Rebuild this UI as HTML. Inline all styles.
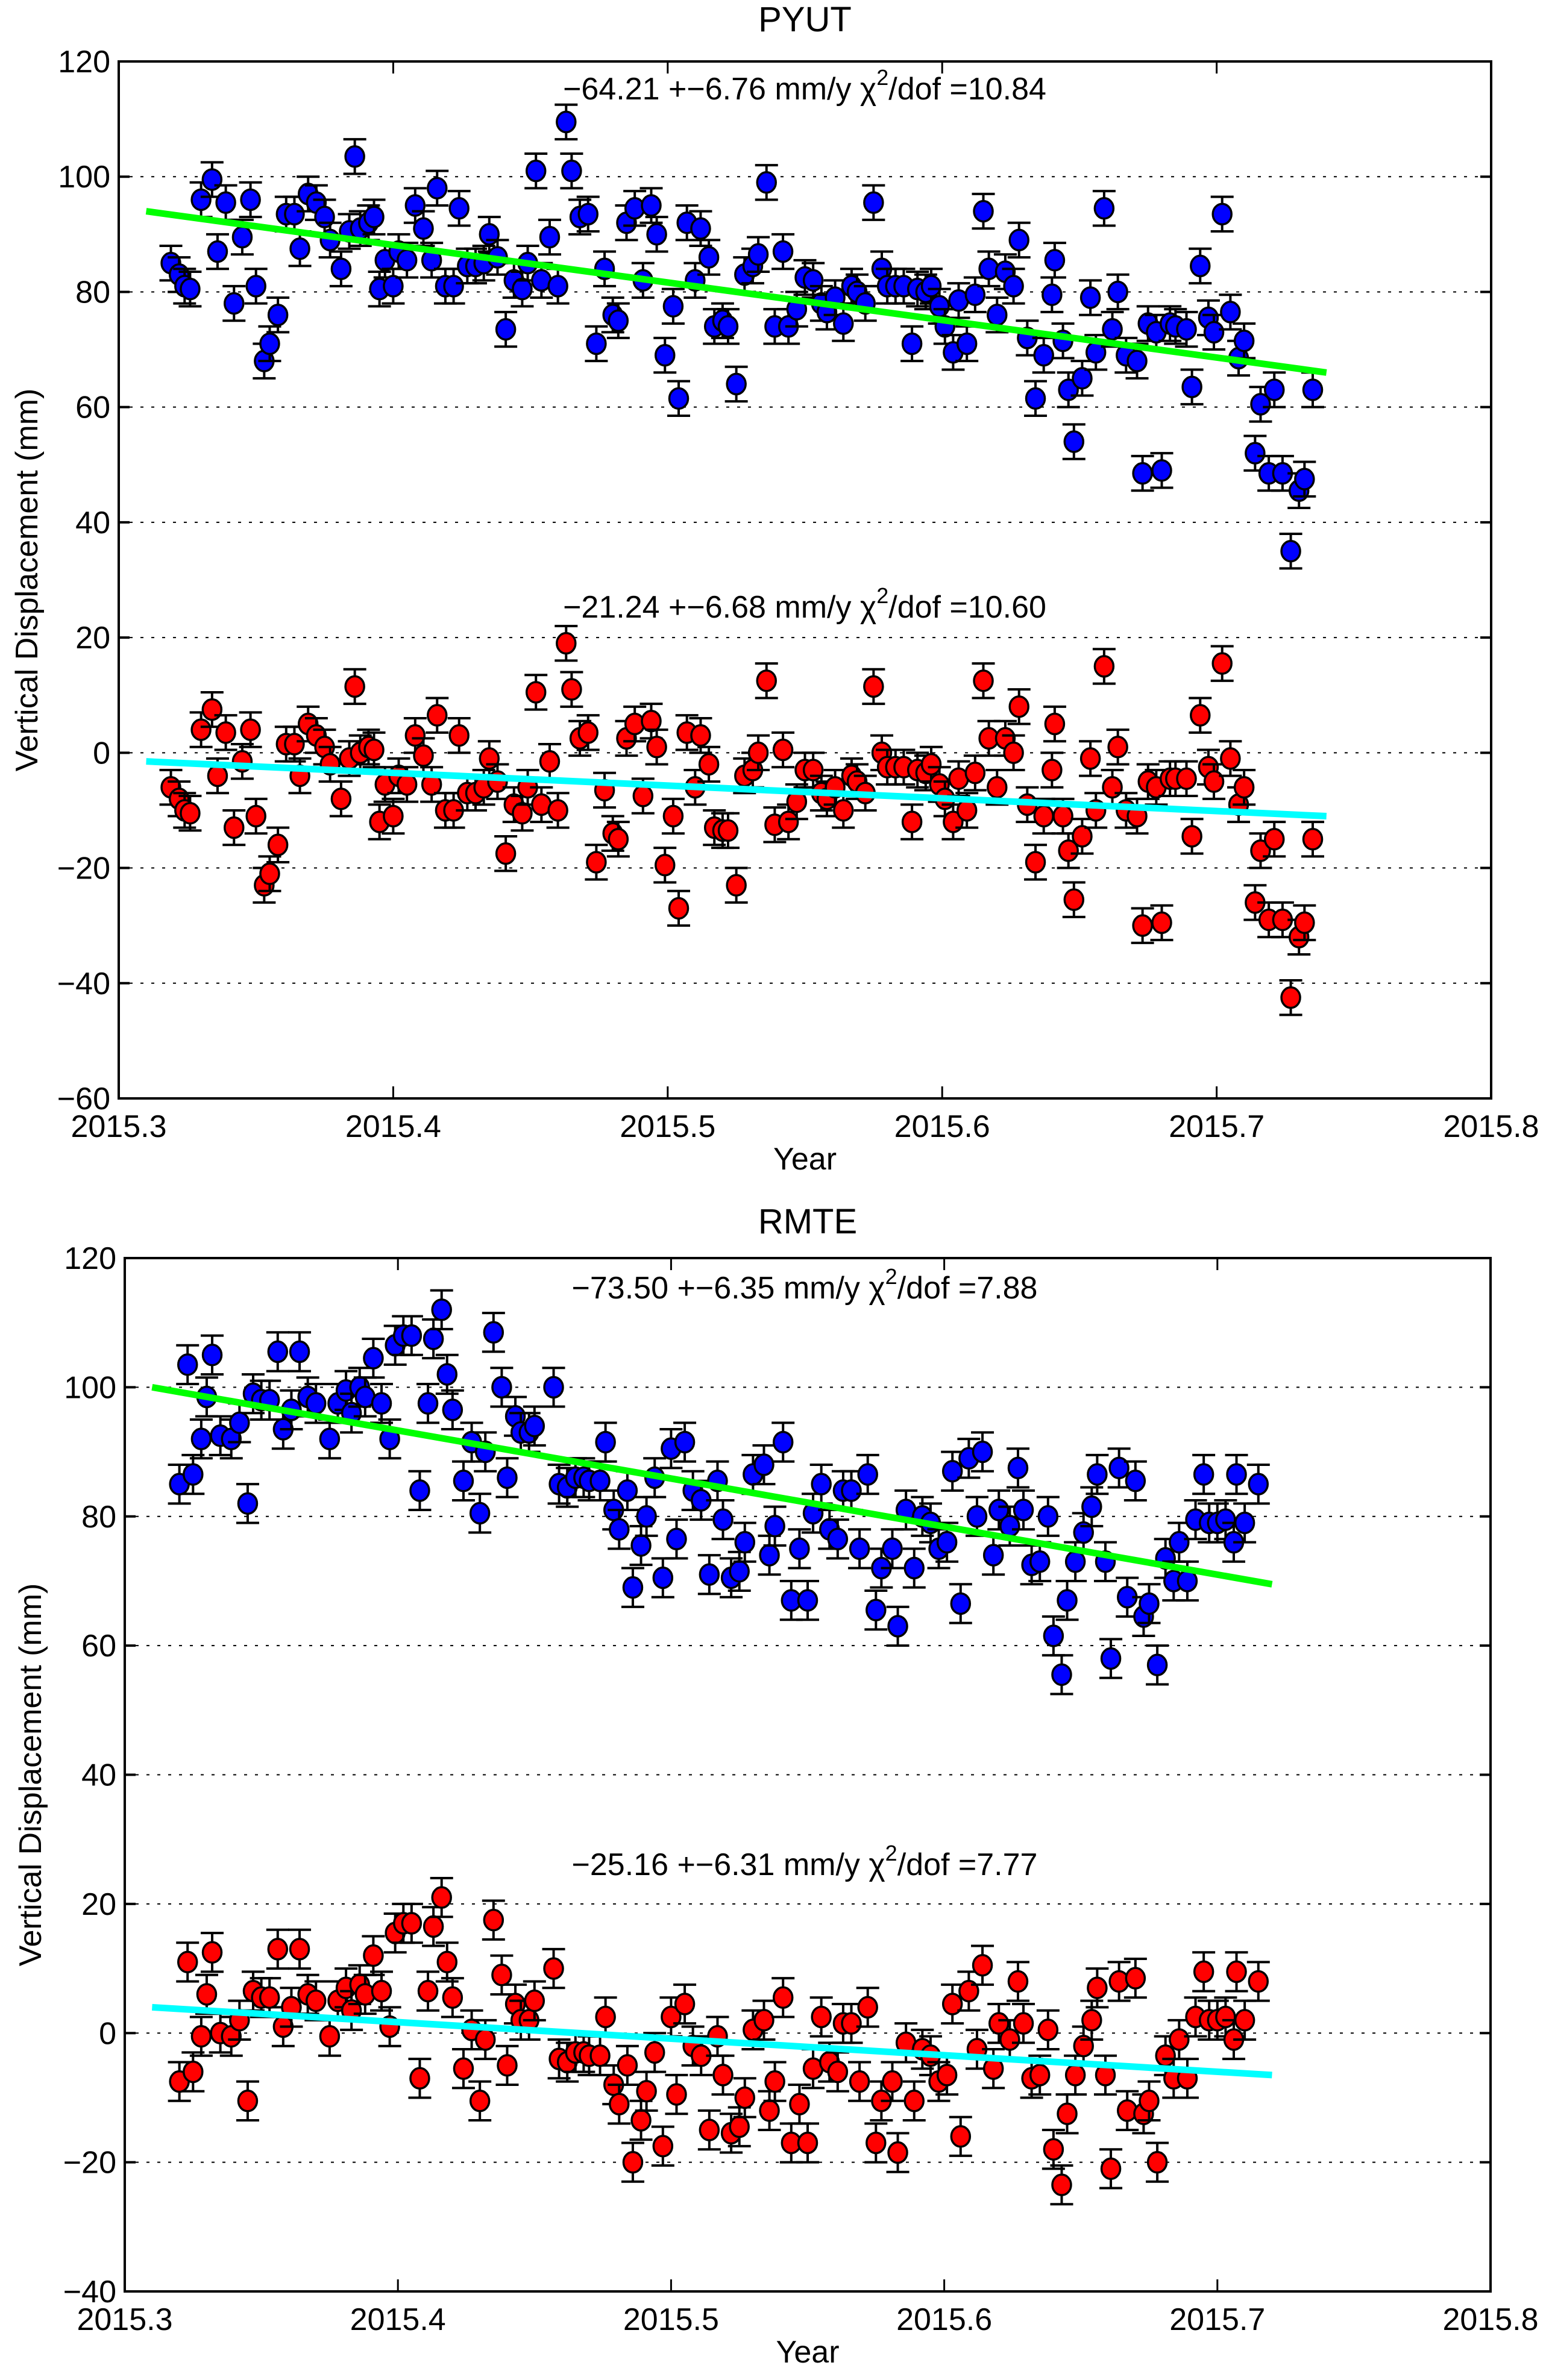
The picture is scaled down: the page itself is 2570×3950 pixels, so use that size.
<!DOCTYPE html>
<html><head><meta charset="utf-8"><style>
html,body{margin:0;padding:0;background:#fff;}
svg{display:block;font-family:"Liberation Sans",sans-serif;}
</style></head><body>
<svg id="fig" width="2570" height="3950" viewBox="0 0 2570 3950" xmlns="http://www.w3.org/2000/svg"></svg>
<script>
// ---------- PYUT data ----------
const pyutYears = [2015.319,2015.322,2015.324,2015.326,2015.330,2015.334,2015.336,2015.339,2015.342,2015.345,2015.348,2015.350,2015.353,2015.355,2015.358,2015.361,2015.364,2015.366,2015.369,2015.372,2015.375,2015.377,2015.381,2015.384,2015.386,2015.388,2015.391,2015.393,2015.395,2015.397,2015.400,2015.402,2015.405,2015.408,2015.411,2015.414,2015.416,2015.419,2015.422,2015.424,
2015.427,2015.430,2015.433,2015.435,2015.438,2015.441,2015.444,2015.447,2015.449,2015.452,2015.454,2015.457,2015.460,2015.463,2015.465,2015.468,2015.471,2015.474,2015.477,
2015.480,2015.482,2015.485,2015.488,2015.491,2015.494,2015.496,2015.499,2015.502,2015.504,2015.507,2015.510,
2015.512,2015.515,2015.517,2015.520,2015.522,2015.525,2015.528,2015.531,2015.533,2015.536,2015.539,2015.542,2015.544,
2015.547,2015.550,2015.553,2015.556,2015.558,2015.561,2015.564,2015.567,2015.569,2015.572,2015.575,2015.578,2015.580,2015.583,2015.586,2015.589,
2015.591,2015.594,2015.596,2015.599,2015.601,2015.604,2015.606,2015.609,2015.612,2015.615,2015.617,2015.620,2015.623,2015.626,2015.628,2015.631,2015.634,2015.637,2015.640,2015.641,2015.644,
2015.646,2015.648,2015.651,2015.654,2015.656,2015.659,2015.662,2015.664,2015.667,2015.671,2015.673,2015.675,2015.678,2015.680,2015.683,2015.685,
2015.689,2015.691,2015.694,2015.697,2015.699,2015.702,2015.705,2015.708,2015.710,2015.714,2015.716,2015.719,2015.721,2015.724,2015.727,2015.730,2015.732,2015.735];
const pyutUp = [85,83,81,80.5,96,99.5,87,95.5,78,89.5,96,81,68,71,76,93.5,93.5,87.5,97,95.5,93,89,84,90.5,103.5,91,92,93,80.5,85.5,81,87,85.5,95,91,85.5,98,81,81,94.5,
84.5,84.5,85,90,86,73.5,82,80.5,85,101,82,89.5,81,109.5,101,93,93.5,71,84,
76,75,92,94.5,82,95,90,69,77.5,61.5,92,82,
91,86,74,75,74,64,83,84.5,86.5,99,74,87,74,
77,82.5,82,78,76.5,79,74.5,81,80,78,95.5,84,81,81,81,71,
80.5,80,81,77.5,74,69.5,78.5,71,79.5,94,84,76,83.5,81,89,72,61.5,69,79.5,85.5,71.5,
63,54,65,79,69.5,94.5,73.5,80,69,68,48.5,74.5,73,49,74.5,74,
73.5,63.5,84.5,75.5,73,93.5,76.5,68.5,71.5,52,60.5,48.5,63,48.5,35,45.5,47.5,63];
const pyutLow = [-6,-8,-10,-10.5,4,7.5,-4,3.5,-13,-1.5,4,-11,-23,-21,-16,1.5,1.5,-4,5,3,1,-2,-8,-1,11.5,0,1,0.5,-12,-5.5,-11,-4,-5.5,3,-0.5,-5.5,6.5,-10,-10,3,
-7,-7,-6,-1,-5,-17.5,-9,-10.5,-6,10.5,-9,-1.5,-10,19,11,2.5,3.5,-19,-6.5,
-14,-15,2.5,5,-7.5,5.5,1,-19.5,-11,-27,3.5,-6,
3,-2,-13,-13.5,-13.5,-23,-4,-3,0,12.5,-12.5,0.5,-12,
-8.5,-3,-3,-7,-8,-6,-10,-4,-5,-7,11.5,0,-2.5,-2.5,-2.5,-12,
-3,-3.5,-2,-5.5,-8,-12,-4.5,-10,-3.5,12.5,2.5,-6,2.5,0,8,-9,-19,-11,-3,5,-11,
-17,-25.5,-14.5,-1,-10,15,-6,1,-10,-11,-30,-5,-6,-29.5,-4.5,-4.5,
-4.5,-14.5,6.5,-2.5,-5,15.5,-1,-9,-6,-26,-17,-29,-15,-29,-42.5,-32,-29.5,-15];
const pyutErr = 3;
const pyutFitUp = [94, 66];
const pyutFitLow = [-1.5, -11];
const pyutFitYears = [2015.31, 2015.74];

// ---------- RMTE data ----------
const rmteYears = [2015.320,2015.323,2015.325,2015.328,2015.330,2015.332,2015.335,2015.339,2015.342,2015.345,2015.347,2015.350,2015.353,2015.356,2015.358,2015.361,2015.364,2015.367,2015.370,2015.375,2015.378,2015.381,2015.383,2015.386,2015.388,2015.391,
2015.394,2015.397,2015.399,2015.402,2015.405,2015.408,2015.411,2015.413,2015.416,2015.418,2015.420,2015.424,2015.427,2015.430,2015.432,2015.435,2015.438,2015.440,2015.443,2015.445,2015.448,
2015.450,2015.457,2015.459,2015.462,2015.465,2015.468,2015.470,2015.474,2015.476,2015.479,2015.481,2015.484,2015.486,2015.489,2015.491,2015.494,2015.497,2015.500,
2015.502,2015.505,2015.508,2015.511,2015.514,2015.517,2015.519,2015.522,2015.525,2015.527,2015.530,2015.534,2015.536,2015.538,2015.541,2015.544,2015.547,2015.550,2015.552,
2015.555,2015.558,2015.561,2015.563,2015.566,2015.569,2015.572,2015.575,2015.577,2015.581,2015.583,2015.586,2015.589,2015.592,2015.595,2015.598,2015.601,2015.603,2015.606,2015.609,2015.612,
2015.614,2015.618,2015.620,2015.624,2015.627,2015.629,2015.632,2015.635,2015.638,2015.640,2015.643,2015.645,2015.648,2015.651,2015.654,2015.656,2015.659,2015.661,2015.664,2015.667,
2015.670,2015.673,2015.675,2015.678,2015.681,2015.684,2015.686,2015.689,2015.692,2015.695,2015.697,2015.700,2015.703,2015.706,2015.707,2015.710,2015.715];
const rmteUp = [85,103.5,86.5,92,98.5,105,92.5,92,94.5,82,99,98,98,105.5,93.5,96.5,105.5,98.5,97.5,92,97.5,99.5,96,100,98.5,104.5,
97.5,92,106.5,108,108,84,97.5,107.5,112,102,96.5,85.5,91.5,80.5,90,108.5,100,86,95.5,93,93,
94,100,85,84.5,86,86,85.5,85.5,91.5,81,78,84,69,75.5,80,86,70.5,90.5,
76.5,91.5,84,82.5,71,85.5,79.5,70.5,71.5,76,86.5,88,74,78.5,91.5,67,75,67,80.5,
85,78,76.5,84,84,75,86.5,65.5,72,75,63,81,72,80,79,75,76,87,66.5,89,80,
90,74,81,78.5,87.5,81,72.5,73,80,61.5,55.5,67,73,77.5,81.5,86.5,73,58,87.5,67.5,
85.5,64.5,66.5,57,73.5,70,76,70,79.5,86.5,79,79,79.5,76,86.5,79,85];
const rmteLow = [-7.5,11,-6,-0.5,6,12.5,0,-0.5,2,-10.5,6.5,5.5,5.5,13,1,4,13,6,5,-0.5,5,7,3.5,7.5,6,12,
6.5,1,15.5,17,17,-7,6.5,16.5,21,11,5.5,-5.5,0.5,-10.5,-1,17.5,9,-5,4.5,2,2,
5,10,-4,-4.5,-3,-3,-3.5,-3.5,2.5,-8,-11,-5,-20,-13.5,-9,-3,-17.5,2.5,
-9.5,4.5,-2,-3.5,-15,-0.5,-6.5,-15.5,-14.5,-10,0.5,2,-12,-7.5,5.5,-17,-11,-17,-5.5,
2.5,-4.5,-6,1.5,1.5,-7.5,4,-17,-10.5,-7.5,-18.5,-1.5,-10.5,-2.5,-3.5,-7.5,-6.5,4.5,-16,6.5,-2.5,
10.5,-5.5,1.5,-1,8,1.5,-7,-6.5,0.5,-18,-23.5,-12.5,-6.5,-2,2,7,-6.5,-21,8,-12,
8.5,-12.5,-10.5,-20,-3.5,-7,-1,-7,2.5,9.5,2,2,2.5,-1,9.5,2,8];
const rmteErr = 3;
const rmteFitUp = [100, 69.5];
const rmteFitLow = [4, -6.5];
const rmteFitYears = [2015.31, 2015.72];

const xTicks = [2015.3, 2015.4, 2015.5, 2015.6, 2015.7, 2015.8];
const xTickLabels = ["2015.3","2015.4","2015.5","2015.6","2015.7","2015.8"];
const pyutYTicks = [-60,-40,-20,0,20,40,60,80,100,120];
const rmteYTicks = [-40,-20,0,20,40,60,80,100,120];

const NS = "http://www.w3.org/2000/svg";
const svg = document.getElementById("fig");
function el(tag, attrs, parent) {
  const e = document.createElementNS(NS, tag);
  for (const k in attrs) e.setAttribute(k, attrs[k]);
  (parent || svg).appendChild(e);
  return e;
}

function panel(cfg) {
  const g = el("g", {});
  
  
  const L = cfg.box[0], T = cfg.box[1], R = cfg.box[2], B = cfg.box[3];
  const xS = t => L + (t - 2015.3) / 0.5 * (R - L);
  const yS = v => B - (v - cfg.yMin) / (cfg.yMax - cfg.yMin) * (B - T);

  cfg.yTicks.forEach(v => {
    if (v === cfg.yMin || v === cfg.yMax) return;
    const gl = el("line", {x1: L, x2: R, y1: yS(v), y2: yS(v), stroke: "#000", "stroke-width": 2, "stroke-dasharray": "5 13"}, g);
    
    
  });
  cfg.yTicks.forEach(v => {
    el("line", {x1: L, x2: L + 18, y1: yS(v), y2: yS(v), stroke: "#000", "stroke-width": 4}, g);
    el("line", {x1: R, x2: R - 18, y1: yS(v), y2: yS(v), stroke: "#000", "stroke-width": 4}, g);
    const tl = el("text", {x: L - 14, y: yS(v) + 18, "text-anchor": "end", "font-size": 52}, g);
    tl.textContent = v < 0 ? "\u2212" + Math.abs(v) : String(v);
    
    
  });
  xTicks.forEach((t, i) => {
    el("line", {x1: xS(t), x2: xS(t), y1: B, y2: B - 20, stroke: "#000", "stroke-width": 3}, g);
    el("line", {x1: xS(t), x2: xS(t), y1: T, y2: T + 20, stroke: "#000", "stroke-width": 3}, g);
    const tl = el("text", {x: xS(t), y: B + 64, "text-anchor": "middle", "font-size": 52}, g);
    tl.textContent = xTickLabels[i];
    
    
  });
  const fr = el("rect", {x: L, y: T, width: R - L, height: B - T, fill: "none", stroke: "#000", "stroke-width": 4}, g);
  
  

  function series(vals, color, sname) {
    const sg = el("g", {}, g);
    
    
    cfg.years.forEach((t, i) => {
      const x = xS(t), y = yS(vals[i]);
      const yt = yS(vals[i] + cfg.err), yb = yS(vals[i] - cfg.err);
      el("line", {x1: x, x2: x, y1: yt, y2: yb, stroke: "#000", "stroke-width": 4}, sg);
      el("line", {x1: x - 19, x2: x + 19, y1: yt, y2: yt, stroke: "#000", "stroke-width": 4}, sg);
      el("line", {x1: x - 19, x2: x + 19, y1: yb, y2: yb, stroke: "#000", "stroke-width": 4}, sg);
      const c = el("ellipse", {cx: x, cy: y, rx: 15.5, ry: 17, fill: color, stroke: "#000", "stroke-width": 3.5}, sg);
      
      
    });
  }
  series(cfg.up, "#0000ff", "upper-series");
  series(cfg.low, "#ff0000", "lower-series");

  const f1 = el("line", {x1: xS(cfg.fitYears[0]), x2: xS(cfg.fitYears[1]), y1: yS(cfg.fitUp[0]), y2: yS(cfg.fitUp[1]), stroke: "#00ff00", "stroke-width": 11}, g);
  
  
  const f2 = el("line", {x1: xS(cfg.fitYears[0]), x2: xS(cfg.fitYears[1]), y1: yS(cfg.fitLow[0]), y2: yS(cfg.fitLow[1]), stroke: "#00ffff", "stroke-width": 11}, g);
  
  

  function annot(y, rate, err, chi, nm) {
    const a = el("text", {x: cfg.annX, y: y, "text-anchor": "middle", "font-size": 52}, g);
    
    
    const s1 = el("tspan", {}, a); s1.textContent = rate + " +\u2212" + err + " mm/y  \u03C7";
    const s2 = el("tspan", {dy: -24, "font-size": 36}, a); s2.textContent = "2";
    const s3 = el("tspan", {dy: 24}, a); s3.textContent = "/dof =" + chi;
  }
  annot(cfg.annY1, cfg.ann1[0], cfg.ann1[1], cfg.ann1[2], "upper-rate-annotation");
  annot(cfg.annY2, cfg.ann2[0], cfg.ann2[1], cfg.ann2[2], "lower-rate-annotation");

  const ti = el("text", {x: (L + R) / 2, y: cfg.titleY, "text-anchor": "middle", "font-size": 58}, g);
  ti.textContent = cfg.title;
  
  
  const xl = el("text", {x: (L + R) / 2, y: B + 118, "text-anchor": "middle", "font-size": 52}, g);
  xl.textContent = "Year";
  
  
  const yl = el("text", {x: 0, y: 0, "text-anchor": "middle", "font-size": 52, transform: "translate(" + cfg.yLabelX + "," + (T + B) / 2 + ") rotate(-90)"}, g);
  yl.textContent = "Vertical Displacement (mm)";
  
  
}

panel({name: "pyut", title: "PYUT", box: [197, 102, 2474, 1823], yMin: -60, yMax: 120, yTicks: pyutYTicks,
  years: pyutYears, up: pyutUp, low: pyutLow, err: pyutErr, fitYears: pyutFitYears, fitUp: pyutFitUp, fitLow: pyutFitLow,
  annX: 1335, annY1: 165, annY2: 1025, ann1: ["\u221264.21", "6.76", "10.84"], ann2: ["\u221221.24", "6.68", "10.60"],
  titleY: 52, yLabelX: 62});
panel({name: "rmte", title: "RMTE", box: [207, 2088, 2473, 3803], yMin: -40, yMax: 120, yTicks: rmteYTicks,
  years: rmteYears, up: rmteUp, low: rmteLow, err: rmteErr, fitYears: rmteFitYears, fitUp: rmteFitUp, fitLow: rmteFitLow,
  annX: 1335, annY1: 2155, annY2: 3112, ann1: ["\u221273.50", "6.35", "7.88"], ann2: ["\u221225.16", "6.31", "7.77"],
  titleY: 2047, yLabelX: 68});
</script>
</body></html>
